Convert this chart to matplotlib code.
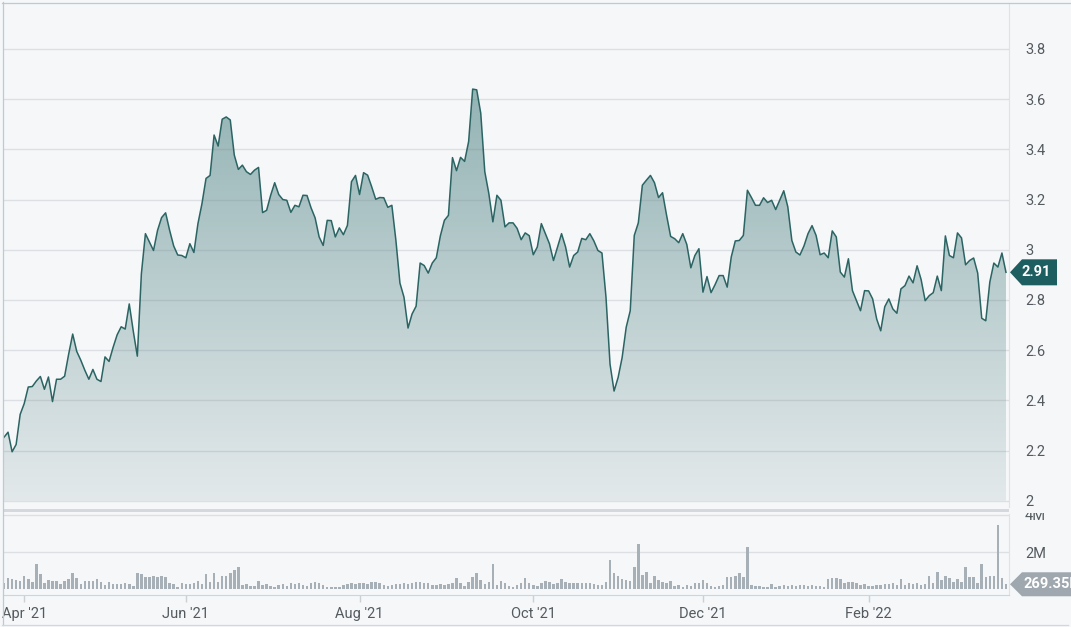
import matplotlib.pyplot as plt
import numpy as np
from matplotlib.colors import LinearSegmentedColormap
from matplotlib.patches import PathPatch, Polygon, Rectangle
from matplotlib.lines import Line2D

plt.rcParams['font.family'] = ['Roboto', 'DejaVu Sans']

# daily closing price, Mar 2021 - Mar 2022 (one value per trading day)
price = [
    2.253, 2.273, 2.195, 2.224, 2.344, 2.387, 2.453, 2.455, 2.477, 2.495,
    2.444, 2.493, 2.395, 2.484, 2.484, 2.496, 2.584, 2.664, 2.595, 2.56,
    2.52, 2.484, 2.523, 2.484, 2.475, 2.573, 2.555, 2.611, 2.661, 2.693,
    2.684, 2.784, 2.675, 2.576, 2.904, 3.064, 3.031, 2.997, 3.077, 3.128,
    3.147, 3.077,
    3.015, 2.979, 2.977, 2.968, 3.024, 2.989, 3.104, 3.184, 3.284, 3.296,
    3.457, 3.413, 3.52, 3.529, 3.517, 3.377, 3.32, 3.337, 3.311, 3.3,
    3.317, 3.328, 3.148, 3.157, 3.217, 3.267, 3.22, 3.2, 3.197, 3.149,
    3.177, 3.171, 3.217, 3.216, 3.167, 3.127, 3.051, 3.017, 3.117, 3.116,
    3.051,
    3.087, 3.06, 3.097, 3.271, 3.296, 3.22, 3.307, 3.297, 3.251, 3.201,
    3.208, 3.207, 3.169, 3.177, 3.037, 2.867, 2.811, 2.688, 2.744, 2.775,
    2.947, 2.937, 2.907, 2.947, 2.968, 3.055, 3.117, 3.137, 3.367, 3.315,
    3.368, 3.352, 3.431, 3.64, 3.637, 3.544, 3.311, 3.224, 3.111, 3.217,
    3.197,
    3.091, 3.107, 3.107, 3.085, 3.04, 3.067, 3.056, 2.98, 3.011, 3.104,
    3.064, 3.024, 2.957, 3.011, 3.064, 3.011, 2.931, 2.977, 2.991, 3.045,
    3.04, 3.064, 3.035, 2.997, 2.987, 2.811, 2.544, 2.437, 2.491, 2.571,
    2.691, 2.757, 3.057, 3.107, 3.257, 3.277, 3.296, 3.267, 3.208, 3.227,
    3.137, 3.053,
    3.044, 3.028, 3.064, 3.021, 2.928, 2.977, 3.004, 2.831, 2.893, 2.829,
    2.861, 2.897, 2.897, 2.851, 2.971, 3.035, 3.037, 3.057, 3.237, 3.208,
    3.177, 3.177, 3.207, 3.188, 3.197, 3.16, 3.197, 3.235, 3.171, 3.037,
    2.991, 2.979, 3.015, 3.064, 3.096, 3.057, 2.98, 2.987, 2.968, 3.075,
    3.051, 2.911,
    2.891, 2.964, 2.837, 2.797, 2.757, 2.837, 2.836, 2.804, 2.724, 2.677,
    2.773, 2.804, 2.764, 2.747, 2.844, 2.857, 2.895, 2.868, 2.936, 2.881,
    2.797, 2.817, 2.829, 2.895, 2.837, 3.055, 2.977, 2.968, 3.067, 3.047,
    2.94, 2.957, 2.967, 2.907, 2.727, 2.717, 2.871, 2.947, 2.931, 2.987,
    2.91,
]

# daily volume in millions of shares
volume_m = [
    0.35, 0.58, 0.53, 0.50, 0.44, 0.71, 0.57, 0.41, 1.38, 0.81,
    0.32, 0.50, 0.46, 0.44, 0.28, 0.46, 0.53, 0.90, 0.58, 0.28,
    0.46, 0.46, 0.44, 0.53, 0.41, 0.23, 0.41, 0.28, 0.28, 0.28,
    0.32, 0.28, 0.19, 0.85, 0.81, 0.64, 0.67, 0.71, 0.64,
    0.71, 0.64, 0.35, 0.28, 0.14, 0.32, 0.28, 0.28, 0.32, 0.46,
    0.28, 0.81, 0.41, 0.85, 0.41, 0.71, 0.74, 0.85, 1.03, 1.20,
    0.23, 0.28, 0.18, 0.18, 0.46, 0.23, 0.28, 0.18, 0.11,
    0.23, 0.28, 0.18, 0.32, 0.28, 0.35, 0.21, 0.18, 0.35, 0.39,
    0.35, 0.23, 0.14, 0.14, 0.14, 0.14, 0.23, 0.28, 0.35, 0.28,
    0.35, 0.32, 0.28, 0.41, 0.41, 0.35, 0.23, 0.18, 0.23, 0.28,
    0.28, 0.32, 0.28, 0.35, 0.41, 0.41, 0.35, 0.32, 0.23, 0.23,
    0.28, 0.23, 0.28, 0.35, 0.58, 0.32, 0.18, 0.41, 0.64, 0.85,
    0.50, 0.28, 0.41, 1.38, 0.23, 0.46, 0.35, 0.18, 0.14, 0.23,
    0.35, 0.58, 0.32, 0.23, 0.18, 0.35, 0.46, 0.41, 0.28, 0.32,
    0.53, 0.41, 0.35, 0.32, 0.32, 0.32, 0.35, 0.32, 0.28,
    0.23, 0.23, 0.41, 1.59, 0.85, 0.71, 0.53, 0.50, 0.46, 1.20,
    2.41, 0.76, 0.94, 0.35, 0.74, 0.50, 0.41, 0.32, 0.46, 0.18,
    0.23, 0.11, 0.23, 0.18, 0.35, 0.35, 0.50, 0.32, 0.18, 0.14,
    0.18, 0.23, 0.64, 0.67, 0.71, 0.85, 0.64, 2.27, 0.21, 0.18,
    0.18, 0.14, 0.11, 0.27, 0.14, 0.18, 0.21, 0.18, 0.23, 0.18,
    0.21, 0.23, 0.18, 0.21, 0.18, 0.18, 0.14, 0.53, 0.58, 0.62,
    0.57, 0.35, 0.41, 0.41, 0.32, 0.23, 0.28, 0.18, 0.18, 0.23,
    0.21, 0.28, 0.28, 0.32, 0.23, 0.53, 0.23, 0.32, 0.28, 0.32,
    0.23, 0.28, 0.71, 0.35, 0.94, 0.50, 0.71, 0.58, 0.41, 0.53,
    0.41, 1.17, 0.67, 0.64, 0.32, 1.35, 0.67, 0.71, 0.74, 3.47,
    0.58, 0.26935,
]

month_labels = ["Apr '21", "Jun '21", "Aug '21", "Oct '21", "Dec '21", "Feb '22"]
month_index = [5, 45, 88, 131, 173, 214]  # first trading day of each month

price_ticks = [2.0, 2.2, 2.4, 2.6, 2.8, 3.0, 3.2, 3.4, 3.6, 3.8]
vol_ticks = [2, 4]

W, H = 1071, 627
BG = '#f5f7f9'
LINE = '#2b6463'
GRID = '#78828c'
TXT = '#555a5f'


def fx(px):
    return px / W


def fy(py):
    return 1 - py / H


fig = plt.figure(figsize=(W / 100, H / 100), dpi=100, facecolor=BG)
ax = fig.add_axes([fx(3), fy(507), fx(1009) - fx(3), fy(3) - fy(507)], facecolor=BG)
axv = fig.add_axes([fx(3), fy(595), fx(1009) - fx(3), fy(514) - fy(595)], facecolor=BG)

x = np.arange(len(price))
xv = np.arange(len(volume_m))
xlim = (-0.25, len(price) - 1 + 0.75)

# price area with vertical gradient
fill = ax.fill_between(x, price, 2.0, facecolor='none', edgecolor='none')
clip = PathPatch(fill.get_paths()[0], transform=ax.transData, facecolor='none', edgecolor='none')
ax.add_patch(clip)
cmap = LinearSegmentedColormap.from_list('g', ['#e3e9eb', '#92b2b3'])
grad = np.linspace(0, 1, 256).reshape(-1, 1)
im = ax.imshow(grad, extent=[x[0], x[-1], 2.0, 3.7], origin='lower', aspect='auto',
               cmap=cmap, zorder=1, interpolation='bilinear')
im.set_clip_path(clip)
ax.plot(x, price, color=LINE, lw=1.1, zorder=3)

ax.set_xlim(*xlim)
ax.set_ylim(1.975, 3.983)
ax.set_axisbelow(False)
ax.yaxis.tick_right()
ax.set_yticks(price_ticks)
ax.set_yticklabels([f'{t:g}' for t in price_ticks])
ax.tick_params(axis='y', length=0, pad=11.5, labelsize=10.5, labelcolor=TXT)
ax.set_xticks([])
ax.grid(axis='y', color=GRID, alpha=0.2, lw=1)
for s in ['top', 'left', 'bottom']:
    ax.spines[s].set_visible(False)
ax.spines['right'].set_color('#dfe2e6')

# volume bars
axv.bar(xv, np.array(volume_m) * 1e6, width=0.62, color='#a7b0b6', zorder=2)
axv.set_xlim(*xlim)
axv.set_ylim(-0.306e6, 4.04e6)
axv.yaxis.tick_right()
axv.set_yticks([v * 1e6 for v in vol_ticks])
axv.set_yticklabels([f'{v}M' for v in vol_ticks])
axv.tick_params(axis='y', length=0, pad=11.5, labelsize=10.5, labelcolor=TXT)
axv.set_xticks(month_index)
axv.set_xticklabels(month_labels)
axv.tick_params(axis='x', length=5, width=1, color='#ccd0d5', pad=3.5,
                labelsize=10.5, labelcolor=TXT)
axv.grid(axis='y', color=GRID, alpha=0.2, lw=1)
axv.set_axisbelow(True)
for s in ['top', 'left']:
    axv.spines[s].set_visible(False)
axv.spines['right'].set_color('#dfe2e6')
axv.spines['bottom'].set_color('#d0d4d8')

# overlay in pixel coords for frame, separator and value tags
ov = fig.add_axes([0, 0, 1, 1], zorder=10)
ov.set_xlim(0, W)
ov.set_ylim(H, 0)
ov.axis('off')
ov.patch.set_alpha(0)

ov.add_patch(Rectangle((3, 509), 1006, 2.5, color='#d5d9dd', lw=0))
ov.add_patch(Rectangle((1010, 507.5), 61, 5, color=BG, lw=0))
ov.add_line(Line2D([2, W], [2.5, 2.5], color='#c3c8ce', lw=0.9))
ov.add_line(Line2D([2.5, 2.5], [2, 625], color='#c3c8ce', lw=0.9))
ov.add_line(Line2D([2, 1068], [625, 625], color='#d3d7db', lw=0.9))

py = H - ax.transData.transform((0, price[-1]))[1]
ov.add_patch(Polygon([(1010, py), (1022, py - 13), (1057, py - 13), (1057, py + 13), (1022, py + 13)],
                     closed=True, color='#1d5e60', lw=0))
ov.text(1036.5, py, f'{price[-1]:.2f}', color='white', fontsize=10.5, fontweight='bold',
        ha='center', va='center')

pv = H - axv.transData.transform((0, volume_m[-1] * 1e6))[1]
ov.add_patch(Polygon([(1010, pv), (1022, pv - 12), (1085, pv - 12), (1085, pv + 12), (1022, pv + 12)],
                     closed=True, color='#9ea8ae', lw=0))
ov.text(1023, pv, f'{volume_m[-1] * 1000:.2f}K', color='white', fontsize=10.5, fontweight='bold',
        ha='left', va='center')

fig.savefig('out.png', dpi=100, facecolor=BG)
